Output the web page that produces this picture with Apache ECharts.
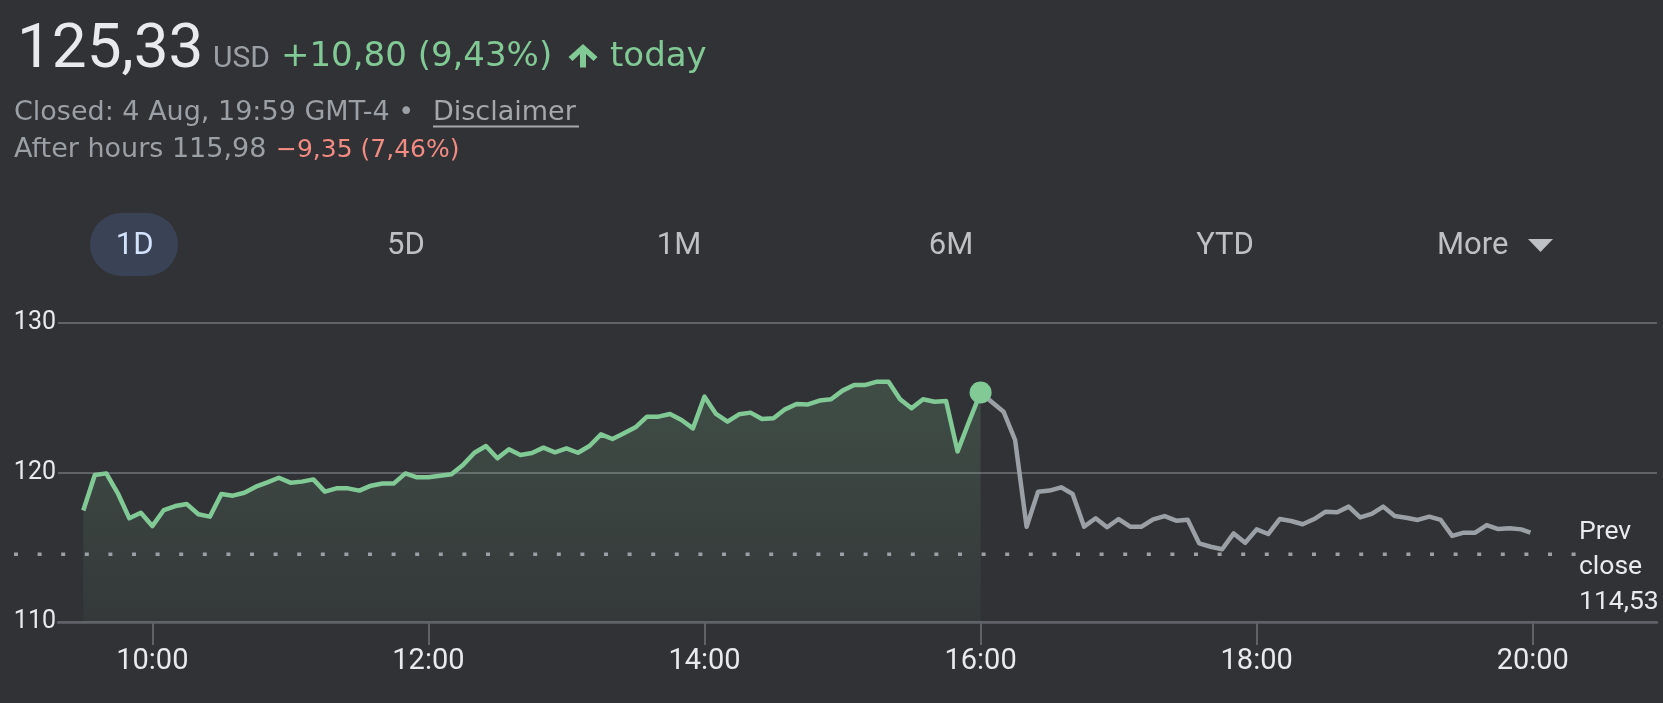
<!DOCTYPE html>
<html>
<head>
<meta charset="utf-8">
<script src="https://cdn.jsdelivr.net/npm/echarts@6/dist/echarts.min.js"></script>
<style>
  html, body { margin: 0; padding: 0; background: #313235; }
  #chart { width: 1663px; height: 703px; }
</style>
</head>
<body>
<div id="chart"></div>
<script>
// ---- data ----
const sessionStartMinute = 570;   // 9:30
const stepMinutes = 5;
const regularPrices = [
  117.45, 119.82, 119.93, 118.60, 116.93, 117.30, 116.41, 117.48, 117.75, 117.88,
  117.20, 117.04, 118.55, 118.44, 118.64, 119.04, 119.33, 119.64, 119.31, 119.38,
  119.53, 118.71, 118.93, 118.93, 118.78, 119.11, 119.26, 119.26, 119.93, 119.67,
  119.67, 119.77, 119.87, 120.49, 121.31, 121.76, 120.94, 121.54, 121.16, 121.29,
  121.65, 121.34, 121.60, 121.31, 121.76, 122.54, 122.23, 122.61, 123.01, 123.72,
  123.72, 123.90, 123.50, 122.94, 125.06, 123.90, 123.39, 123.88, 123.99, 123.56,
  123.61, 124.21, 124.57, 124.54, 124.80, 124.88, 125.46, 125.84, 125.84, 126.06,
  126.06, 124.88, 124.28, 124.88, 124.72, 124.77, 121.40, 123.40, 125.33
];
const afterHoursPrices = [
  124.68, 124.05, 122.16, 116.37, 118.71, 118.78, 119.00, 118.55, 116.37, 116.93,
  116.33, 116.88, 116.37, 116.37, 116.86, 117.08, 116.77, 116.84, 115.26, 115.03,
  114.86, 115.92, 115.29, 116.19, 115.88, 116.88, 116.75, 116.53, 116.88, 117.37,
  117.33, 117.71, 116.99, 117.22, 117.71, 117.08, 116.97, 116.82, 117.04, 116.82,
  115.75, 115.97, 115.97, 116.48, 116.21, 116.26, 116.19
];
const afterHoursLast = { minute: 1199, price: 115.98 };
const prevClose = 114.53;
const xTickMinutes = [600, 720, 840, 960, 1080, 1200];
const yTicks = [110, 120, 130];
const tabs = ['1D', '5D', '1M', '6M', 'YTD'];

// ---- build series data ----
const regularData = regularPrices.map((p, i) => [sessionStartMinute + i * stepMinutes, p]);
const closePoint = regularData[regularData.length - 1];
const afterData = [closePoint].concat(
  afterHoursPrices.map((p, j) => [closePoint[0] + (j + 1) * stepMinutes, p]),
  [[afterHoursLast.minute, afterHoursLast.price]]
);
function fmtTime(m) {
  const h = Math.floor(m / 60), mm = m % 60;
  return h + ':' + (mm < 10 ? '0' : '') + mm;
}
function fmtNum(v) { return v.toFixed(2).replace('.', ','); }

const FONT = 'Roboto, "Noto Sans", sans-serif';
const WIDE = '"DejaVu Sans", Roboto, sans-serif';
const GRID_TOP = 322.7, GRID_BOTTOM = 81;

const tabCenters = [134.7, 406, 679, 951, 1225];
const graphics = [
  { type: 'text', x: 17, y: 51, style: { text: '125,33', fill: '#e8eaed', fontSize: 62, fontFamily: FONT, verticalAlign: 'middle' } },
  { type: 'text', x: 213, y: 59, style: { text: 'USD', fill: '#9aa0a6', fontSize: 30, fontFamily: FONT, verticalAlign: 'middle' } },
  { type: 'text', x: 281, y: 57, style: { text: '+10,80 (9,43%)', fill: '#81c995', fontSize: 34, fontFamily: WIDE, verticalAlign: 'middle' } },
  { type: 'polygon', shape: { points: [[583,44],[597.5,57],[593.5,61],[586,54],[586,67.5],[580,67.5],[580,54],[572.5,61],[568.5,57]] }, style: { fill: '#81c995' } },
  { type: 'text', x: 610, y: 57, style: { text: 'today', fill: '#81c995', fontSize: 34, fontFamily: WIDE, verticalAlign: 'middle' } },
  { type: 'text', x: 14, y: 113, style: { text: 'Closed: 4 Aug, 19:59 GMT-4 \u2022', fill: '#9aa0a6', fontSize: 27, fontFamily: WIDE, verticalAlign: 'middle' } },
  { type: 'text', x: 433, y: 113, style: { text: 'Disclaimer', fill: '#a4a8ad', fontSize: 27, fontFamily: WIDE, verticalAlign: 'middle' } },
  { type: 'line', shape: { x1: 433, y1: 126.5, x2: 579, y2: 126.5 }, style: { stroke: '#a4a8ad', lineWidth: 2 } },
  { type: 'text', x: 14, y: 150, style: { text: 'After hours 115,98', fill: '#9aa0a6', fontSize: 27, fontFamily: WIDE, verticalAlign: 'middle' } },
  { type: 'text', x: 276, y: 150, style: { text: '\u22129,35 (7,46%)', fill: '#f28b82', fontSize: 25, fontFamily: WIDE, verticalAlign: 'middle' } },
  { type: 'rect', shape: { x: 90, y: 213, width: 88, height: 63, r: 31.5 }, style: { fill: '#3a4356' } },
  { type: 'text', x: 1437, y: 246, style: { text: 'More', fill: '#bdc1c6', fontSize: 31, fontFamily: FONT, verticalAlign: 'middle' } },
  { type: 'polygon', shape: { points: [[1528,239],[1553,239],[1540.5,252]] }, style: { fill: '#bdc1c6' } }
];
tabs.forEach((t, i) => {
  graphics.push({ type: 'text', x: tabCenters[i], y: 246, style: { text: t, fill: i === 0 ? '#d3e3fd' : '#bdc1c6', fontSize: 31, fontFamily: FONT, align: 'center', verticalAlign: 'middle' } });
});

const chart = echarts.init(document.getElementById('chart'));
chart.setOption({
  backgroundColor: '#313235',
  animation: false,
  graphic: graphics,
  grid: [
    { left: 58, right: 6, top: GRID_TOP, bottom: GRID_BOTTOM },
    { left: 14, right: 87, top: GRID_TOP, bottom: GRID_BOTTOM }
  ],
  xAxis: [
    {
      type: 'value', gridIndex: 0, min: 559, max: 1254,
      splitLine: { show: false },
      axisLine: { show: true, lineStyle: { color: '#5f6368', width: 2.5 } },
      axisTick: { show: true, customValues: xTickMinutes, length: 23, lineStyle: { color: '#5f6368', width: 2 } },
      axisLabel: { customValues: xTickMinutes, formatter: v => fmtTime(v), color: '#e8eaed', fontSize: 29, fontFamily: FONT, margin: 25 }
    },
    { type: 'value', gridIndex: 1, min: 0, max: 1, show: false }
  ],
  yAxis: [
    {
      type: 'value', gridIndex: 0, min: yTicks[0], max: yTicks[yTicks.length - 1], interval: 10,
      axisLine: { show: false }, axisTick: { show: false },
      splitLine: { show: true, lineStyle: { color: '#5f6368', width: 2 } },
      axisLabel: { color: '#e8eaed', fontSize: 25, fontFamily: FONT, margin: 2 }
    },
    { type: 'value', gridIndex: 1, min: yTicks[0], max: yTicks[yTicks.length - 1], show: false }
  ],
  series: [
    {
      type: 'line', xAxisIndex: 0, yAxisIndex: 0, data: regularData, showSymbol: false, z: 3,
      lineStyle: { color: '#81c995', width: 4.5, join: 'round' },
      areaStyle: {
        origin: 'start',
        color: new echarts.graphic.LinearGradient(0, 0, 0, 1, [
          { offset: 0, color: 'rgba(129,201,149,0.26)' },
          { offset: 1, color: 'rgba(129,201,149,0.06)' }
        ])
      }
    },
    {
      type: 'line', xAxisIndex: 0, yAxisIndex: 0, data: afterData, showSymbol: false, z: 2,
      lineStyle: { color: '#9aa0a6', width: 4.5, join: 'round' }
    },
    {
      type: 'line', xAxisIndex: 1, yAxisIndex: 1, data: [[0, prevClose], [1, prevClose]], showSymbol: false, z: 4,
      lineStyle: { color: '#9aa0a6', width: 3.5, type: [4, 19.6] },
      endLabel: {
        show: true, formatter: 'Prev\nclose\n' + fmtNum(prevClose), color: '#e8eaed',
        fontSize: 26.5, fontFamily: FONT, lineHeight: 35, distance: 3, offset: [0, 13], align: 'left'
      }
    },
    {
      type: 'scatter', xAxisIndex: 0, yAxisIndex: 0, data: [closePoint], symbolSize: 22, z: 5,
      itemStyle: { color: '#81c995', opacity: 1 }
    }
  ]
});
</script>
</body>
</html>
